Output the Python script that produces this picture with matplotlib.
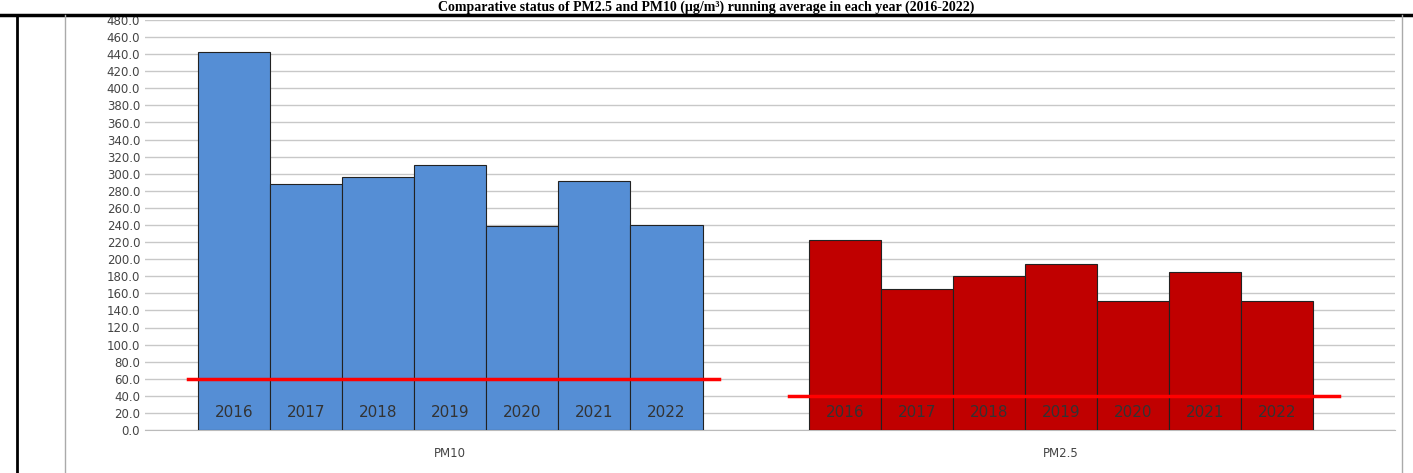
import matplotlib
matplotlib.use("Agg")
import matplotlib.pyplot as plt
from matplotlib.lines import Line2D
import numpy as np

categories = ["PM10", "PM2.5"]
years = ["2016", "2017", "2018", "2019", "2020", "2021", "2022"]
pm10 = [442, 288, 296, 310, 239, 291, 240]
pm25 = [222, 165, 180, 194, 151, 185, 151]
standards = [60, 40]
title = "Comparative status of PM2.5 and PM10 (µg/m³) running average in each year (2016-2022)"

fig = plt.figure(figsize=(14.13, 4.73), dpi=100)
ax = fig.add_axes([145/1413, 43/473, 1250/1413, 410/473])

w = 0.118
colors = ["#558ed5", "#c00000"]
for ci, vals in enumerate([pm10, pm25]):
    offs = (np.arange(len(years)) - 3) * w
    ax.bar(ci + offs, vals, width=w, color=colors[ci], edgecolor="#222222", linewidth=0.8, zorder=3)
    for o, y in zip(offs, years):
        ax.text(ci + o, 20, y, ha="center", va="center", fontsize=11, color="#333333", zorder=4)
ax.plot([-0.43, 0.44], [standards[0]] * 2, color="#ff0000", lw=2.5, zorder=5)
ax.plot([0.555, 1.455], [standards[1]] * 2, color="#ff0000", lw=2.5, zorder=5)

ax.set_xlim(-0.5, 1.547)
ax.set_ylim(0, 480)
ax.set_yticks(np.arange(0, 481, 20))
ax.set_yticklabels([f"{v:.1f}" for v in np.arange(0, 481, 20)], fontsize=8.5, color="#444444")
ax.set_xticks([0, 1])
ax.set_xticklabels(categories, fontsize=8.5, color="#444444")
ax.tick_params(axis="x", length=0, pad=12)
ax.tick_params(axis="y", length=0)
ax.grid(axis="y", color="#c8c8c8", lw=1, zorder=0)
for s in ["top", "right", "left"]:
    ax.spines[s].set_visible(False)
ax.spines["bottom"].set_color("#bbbbbb")

fig.text(0.5, 1.0 - 7/473, title, ha="center", va="center", fontsize=10, fontweight="bold", family="Liberation Serif")
fig.add_artist(Line2D([0, 1], [1 - 15/473] * 2, color="black", lw=2.5))
fig.add_artist(Line2D([17/1413] * 2, [0, 1 - 15/473], color="black", lw=2))
fig.add_artist(Line2D([65/1413] * 2, [0, 1 - 15/473], color="#aaaaaa", lw=1))
fig.add_artist(Line2D([1402/1413] * 2, [0, 1 - 15/473], color="#aaaaaa", lw=1))
fig.savefig("out.png", dpi=100)
